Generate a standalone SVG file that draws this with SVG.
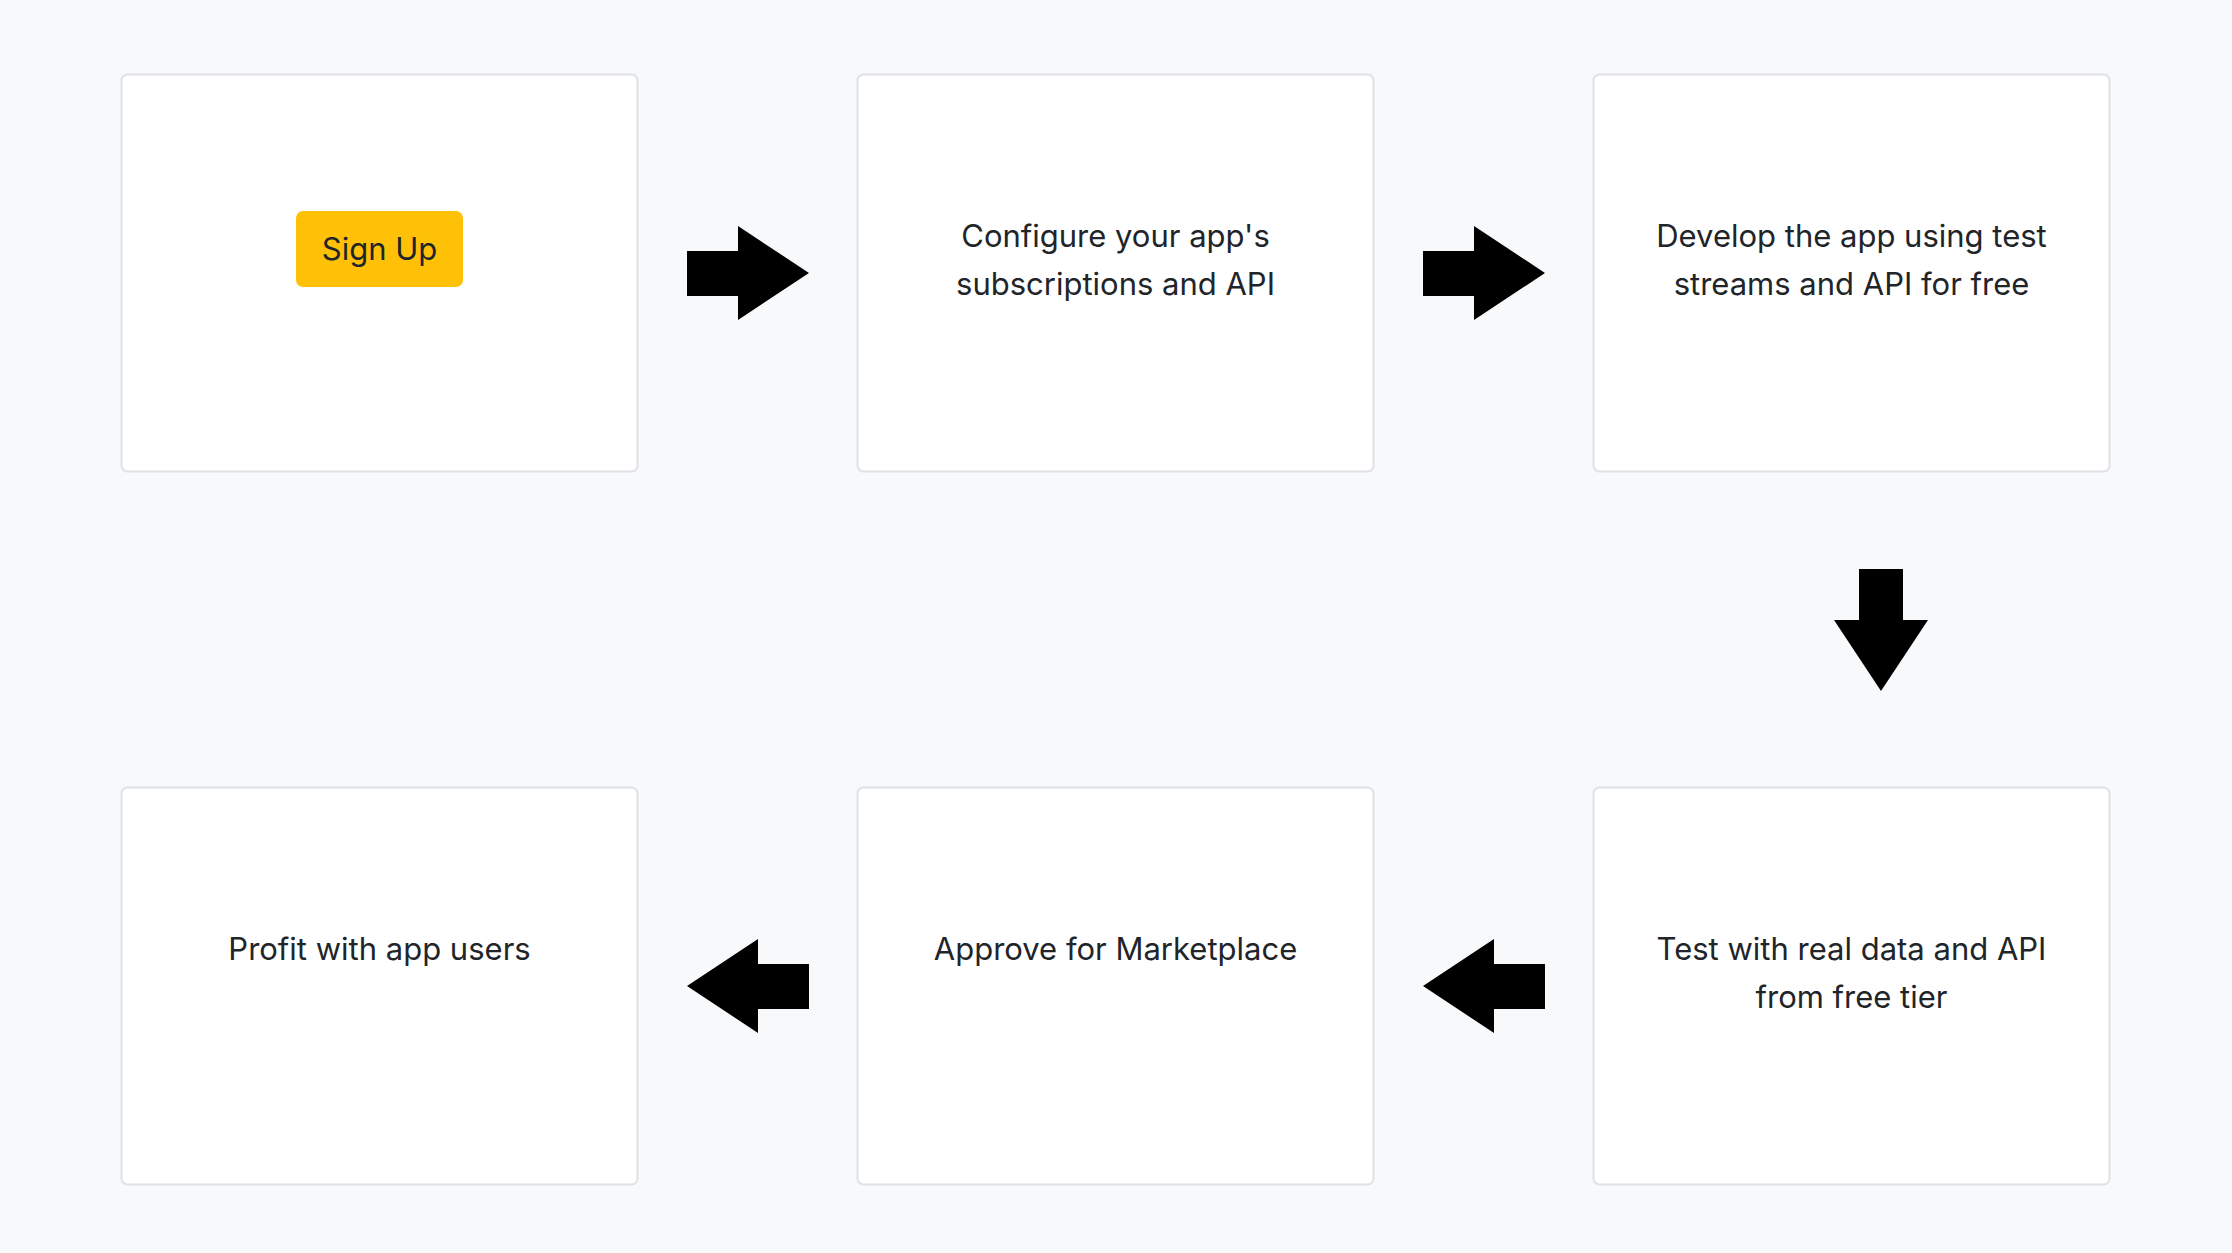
<svg xmlns="http://www.w3.org/2000/svg" width="2232" height="1253" viewBox="0 0 2232 1253">
  <style>
    .card { fill: #ffffff; stroke: #dee2e6; stroke-width: 2; }
    .label { font-family: Inter, "Liberation Sans", Arial, sans-serif; font-size: 31px; fill: #212529; text-anchor: middle; }
    .btn { fill: #ffc107; }
    .arrow { fill: #000000; }
  </style>
  <rect x="0" y="0" width="2232" height="1253" fill="#f8f9fa"/>
  <g id="connectors">
    <polygon class="arrow" points="687,251 738,251 738,226 809,273 738,320 738,296 687,296"/>
    <polygon class="arrow" points="1423,251 1474,251 1474,226 1545,273 1474,320 1474,296 1423,296"/>
    <polygon class="arrow" points="1859,569 1903,569 1903,620 1928,620 1881,691 1834,620 1859,620"/>
    <polygon class="arrow" points="1545,964 1494,964 1494,939 1423,986 1494,1033 1494,1009 1545,1009"/>
    <polygon class="arrow" points="809,964 758,964 758,939 687,986 758,1033 758,1009 809,1009"/>
  </g>
  <g id="node-signup">
    <rect class="card" x="121.5" y="74.5" width="516" height="397" rx="6"/>
    <rect class="btn" x="296" y="211" width="167" height="76" rx="7"/>
    <text class="label" x="379.5" y="260">Sign Up</text>
  </g>
  <g id="node-configure">
    <rect class="card" x="857.5" y="74.5" width="516" height="397" rx="6"/>
    <text class="label" x="1115.5" y="247">Configure your app's</text>
    <text class="label" x="1115.5" y="295">subscriptions and API</text>
  </g>
  <g id="node-develop">
    <rect class="card" x="1593.5" y="74.5" width="516" height="397" rx="6"/>
    <text class="label" x="1851.5" y="247">Develop the app using test</text>
    <text class="label" x="1851.5" y="295">streams and API for free</text>
  </g>
  <g id="node-test">
    <rect class="card" x="1593.5" y="787.5" width="516" height="397" rx="6"/>
    <text class="label" x="1851.5" y="960">Test with real data and API</text>
    <text class="label" x="1851.5" y="1008">from free tier</text>
  </g>
  <g id="node-approve">
    <rect class="card" x="857.5" y="787.5" width="516" height="397" rx="6"/>
    <text class="label" x="1115.5" y="960">Approve for Marketplace</text>
  </g>
  <g id="node-profit">
    <rect class="card" x="121.5" y="787.5" width="516" height="397" rx="6"/>
    <text class="label" x="379.5" y="960">Profit with app users</text>
  </g>
</svg>
